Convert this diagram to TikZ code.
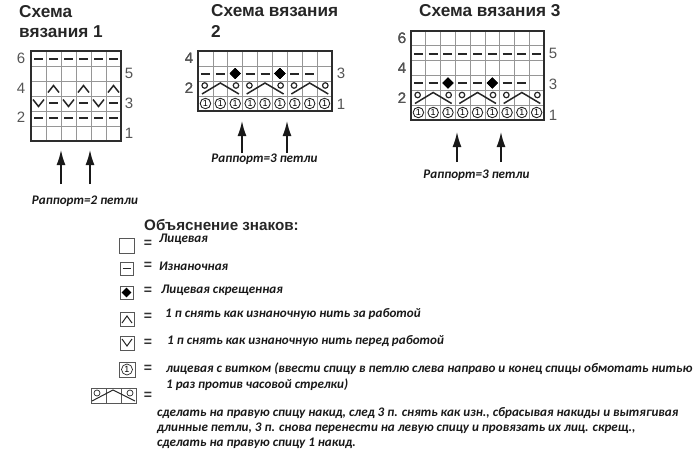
\documentclass[tikz,border=0pt]{standalone}
\usepackage{fontspec}
\setmainfont{Liberation Sans}
\newfontfamily\notefont{Carlito}
\usetikzlibrary{arrows.meta,shapes.geometric}
\definecolor{gridgray}{RGB}{150,150,150}
\definecolor{framedark}{RGB}{45,45,45}
\definecolor{numgray}{RGB}{85,85,85}
\tikzset{
  gridline/.style={draw=gridgray,line width=0.7pt},
  gridframe/.style={draw=framedark,line width=2pt},
  markline/.style={draw=black!85,line width=1.5pt},
  legendbox/.style={draw=framedark!80,line width=1pt},
  schemetitle/.style={anchor=base west,inner sep=0pt,font=\fontsize{17.2}{17.2}\selectfont\bfseries,text=black!85},
  rownum/.style={inner sep=0pt,font=\fontsize{15}{15}\selectfont,text=numgray},
  notetext/.style={anchor=west,inner sep=0pt,font=\fontsize{13.1}{13.1}\notefont\bfseries\itshape,text=black!90},
  equalsign/.style={inner sep=0pt,font=\fontsize{14}{14}\selectfont\bfseries,text=black!80},
  turned/.style={circle,draw=black!85,line width=0.9pt,fill=white,inner sep=0pt,minimum size=10.5pt,font=\fontsize{9}{9}\selectfont},
  yarnover/.style={circle,draw=black!85,line width=1.2pt,fill=white,inner sep=0pt,minimum size=5.5pt},
  crossed/.style={diamond,fill=black,inner sep=0pt,minimum size=11pt},
  repeatarrow/.style={line width=1.5pt,-{Latex[length=15pt,width=9pt]},draw=black!90}
}
% сетка: x0, y0, x1, y1, столбцы, ряды
\newcommand{\knitgrid}[6]{%
  \pgfmathsetmacro{\cellw}{(#3-#1)/#5}
  \pgfmathsetmacro{\cellh}{(#4-#2)/#6}
  \foreach \i in {1,...,#5} \draw[gridline] ({#1+\i*\cellw},#2) -- ({#1+\i*\cellw},#4);
  \foreach \j in {1,...,#6} \draw[gridline] (#1,{#2+\j*\cellh}) -- (#3,{#2+\j*\cellh});
  \draw[gridframe] (#1,#2) rectangle (#3,#4);
}
\newcommand{\dashmark}[2]{\draw[markline] ({#1-4.5},#2) -- ({#1+4.5},#2);}
\newcommand{\capmark}[2]{\draw[markline] ({#1-5.5},{#2+4}) -- (#1,{#2-3}) -- ({#1+5.5},{#2+4});}
\newcommand{\vmark}[2]{\draw[markline] ({#1-5.5},{#2-4}) -- (#1,{#2+3}) -- ({#1+5.5},{#2-4});}
% узор на 3 петли: x0, верх ряда, шаг столбца
\newcommand{\zigmark}[3]{%
  \draw[markline] ({#1+0.27*#3},{#2+13}) -- ({#1+1.5*#3},{#2+2}) -- ({#1+2.75*#3},{#2+13});
  \node[yarnover] (yl) at ({#1+0.45*#3},{#2+4.5}) {};
  \node[yarnover] (yr) at ({#1+2.55*#3},{#2+4.5}) {};
}
\begin{document}
\begin{tikzpicture}[x=1pt,y=-1pt]
  \useasboundingbox (0,0) rectangle (699,464);
  % Схема 1
  \node[schemetitle] (title1a) at (19,17) {Схема};
  \node[schemetitle] (title1b) at (19,37) {вязания 1};
  \knitgrid{31}{51}{121}{141}{6}{6}
  \foreach \c in {0,...,5} {
    \dashmark{38.5+15*\c}{59}
    \dashmark{38.5+15*\c}{118}
  }
  \foreach \c in {0,2,4} {
    \capmark{53.5+15*\c}{88.5}
    \vmark{38.5+15*\c}{103.5}
    \dashmark{53.5+15*\c}{103}
  }
  \foreach \n/\y in {6/58,4/88,2/117} \node[rownum] (numa\n) at (21,\y) {\n};
  \foreach \n/\y in {5/73,3/103,1/133} \node[rownum] (numa\n) at (129,\y) {\n};
  \foreach \x [count=\k] in {61,90} {
    \coordinate (tipa\k) at (\x,150);
    \coordinate (taila\k) at (\x,184);
    \draw[repeatarrow] (taila\k) -- (tipa\k);
  }
  \node[notetext,anchor=center] (rapport1) at (85,201) {Раппорт=2 петли};
  % Схема 2
  \node[schemetitle] (title2a) at (211,16) {Схема вязания};
  \node[schemetitle] (title2b) at (211,37) {2};
  \knitgrid{198}{51}{332}{111}{9}{4}
  \def\stepb{14.89}
  \foreach \c in {0,...,8} {
    \node[turned] (oneb\c) at ({198+(\c+0.5)*\stepb},103.5) {1};
  }
  \foreach \c in {0,1,3,4,6,7} \dashmark{198+(\c+0.5)*\stepb}{74}
  \foreach \c in {2,5} \node[crossed] (crossb\c) at ({198+(\c+0.5)*\stepb},73.5) {};
  \foreach \k in {0,1,2} \zigmark{198+3*\k*\stepb}{81}{\stepb}
  \foreach \n/\y in {4/58,2/88} \node[rownum] (numb\n) at (189,\y) {\n};
  \foreach \n/\y in {3/73,1/104} \node[rownum] (numb\n) at (341,\y) {\n};
  \foreach \x [count=\k] in {242,287} {
    \coordinate (tipb\k) at (\x,121);
    \coordinate (tailb\k) at (\x,153);
    \draw[repeatarrow] (tailb\k) -- (tipb\k);
  }
  \node[notetext,anchor=center] (rapport2) at (264.5,159) {Раппорт=3 петли};
  % Схема 3
  \node[schemetitle] (title3) at (419,16) {Схема вязания 3};
  \knitgrid{411}{31}{544}{120}{9}{6}
  \def\stepc{14.78}
  \foreach \c in {0,...,8} {
    \node[turned] (onec\c) at ({411+(\c+0.5)*\stepc},112.5) {1};
    \dashmark{411+(\c+0.5)*\stepc}{54}
  }
  \foreach \c in {0,1,3,4,6,7} \dashmark{411+(\c+0.5)*\stepc}{83}
  \foreach \c in {2,5} \node[crossed] (crossc\c) at ({411+(\c+0.5)*\stepc},83) {};
  \foreach \k in {0,1,2} \zigmark{411+3*\k*\stepc}{90.5}{\stepc}
  \foreach \n/\y in {6/38,4/68,2/98} \node[rownum] (numc\n) at (402,\y) {\n};
  \foreach \n/\y in {5/53,3/84,1/115} \node[rownum] (numc\n) at (553,\y) {\n};
  \foreach \x [count=\k] in {457,501} {
    \coordinate (tipc\k) at (\x,132);
    \coordinate (tailc\k) at (\x,162);
    \draw[repeatarrow] (tailc\k) -- (tipc\k);
  }
  \node[notetext,anchor=center] (rapport3) at (476.5,175) {Раппорт=3 петли};
  % Объяснение знаков
  \node[schemetitle,font=\fontsize{15.2}{15.2}\selectfont\bfseries] (legendtitle) at (144,230) {Объяснение знаков:};
  \draw[legendbox] (119,238) rectangle (134,253);
  \draw[legendbox] (120,262) rectangle (133,275);
  \draw[markline,line width=1pt] (122.5,268.5) -- (130.5,268.5);
  \draw[legendbox] (120,286) rectangle (133,299);
  \node[crossed,minimum size=10pt] (legendcross) at (126.5,292.5) {};
  \draw[legendbox] (120,312) rectangle (134,326);
  \draw[markline,line width=1pt] (122,323) -- (127,316) -- (132,323);
  \draw[legendbox] (120,336) rectangle (134,350);
  \draw[markline,line width=1pt] (122,339) -- (127,346) -- (132,339);
  \draw[legendbox] (119,362) rectangle (135,377);
  \node[turned,minimum size=11pt,line width=0.7pt] (legendone) at (127,369.5) {1};
  \draw[legendbox] (91,388) rectangle (136,403);
  \foreach \x in {106,121} \draw[legendbox] (\x,388) -- (\x,403);
  \draw[markline,line width=1pt] (92,401) -- (113,390) -- (135,401);
  \node[yarnover,line width=0.7pt,minimum size=6pt] (legendyl) at (97,393) {};
  \node[yarnover,line width=0.7pt,minimum size=6pt] (legendyr) at (130,393) {};
  \foreach \y [count=\k] in {244,266,291,317,343,369,396} \node[equalsign] (eq\k) at (148,\y) {=};
  \node[notetext] (textface) at (159,239) {Лицевая};
  \node[notetext] (textpurl) at (159,266) {Изнаночная};
  \node[notetext] (textcross) at (161,290) {Лицевая скрещенная};
  \node[notetext] (textback) at (165,314) {1 п снять как изнаночную нить за работой};
  \node[notetext] (textfront) at (167,341) {1 п снять как изнаночную нить перед работой};
  \node[notetext] (texttwist) at (166,369) {лицевая с витком (ввести спицу в петлю слева направо и конец спицы обмотать нитью};
  \node[notetext] (texttwistb) at (166,385) {1 раз против часовой стрелки)};
  \node[notetext] (textziga) at (157,413) {сделать на правую спицу накид, след 3 п. снять как изн., сбрасывая накиды и вытягивая};
  \node[notetext] (textzigb) at (157,428) {длинные петли, 3 п. снова перенести на левую спицу и провязать их лиц. скрещ.,};
  \node[notetext] (textzigc) at (157,443) {сделать на правую спицу 1 накид.};
\end{tikzpicture}
\end{document}
